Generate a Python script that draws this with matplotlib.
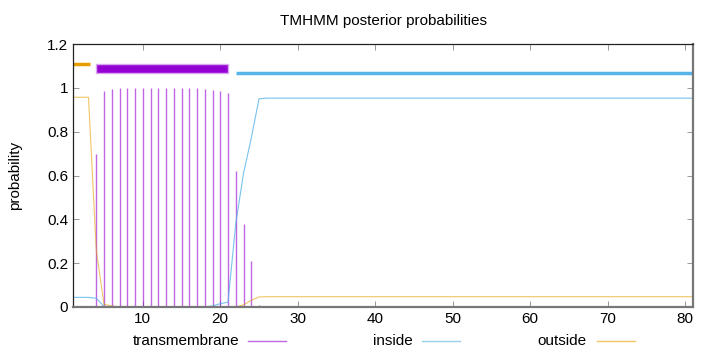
import matplotlib
matplotlib.use("Agg")
import matplotlib.pyplot as plt
from matplotlib.lines import Line2D
from matplotlib.patches import Rectangle

plt.rcParams['font.family'] = ['Liberation Sans', 'DejaVu Sans']

# posterior probabilities per residue
positions = list(range(1, 82))
tm_prob = [0.0, 0.003, 0.003, 0.70, 0.985, 0.995, 1.0, 1.0, 1.0, 1.0,
           1.0, 1.0, 1.0, 1.0, 1.0, 1.0, 1.0, 0.995, 0.99, 0.985,
           0.978, 0.62, 0.38, 0.21, 0.01] + [0.0] * 56
inside_prob = [0.044, 0.044, 0.044, 0.04, 0.003, 0.0, 0.0, 0.0, 0.0, 0.0,
               0.0, 0.0, 0.0, 0.0, 0.0, 0.0, 0.0, 0.0, 0.005, 0.015,
               0.022, 0.38, 0.61, 0.77, 0.95] + [0.953] * 56
outside_prob = [0.957, 0.957, 0.957, 0.26, 0.012, 0.005, 0.0, 0.0, 0.0, 0.0,
                0.0, 0.0, 0.0, 0.0, 0.0, 0.0, 0.0, 0.0, 0.0, 0.0,
                0.0, 0.0, 0.01, 0.03, 0.046] + [0.047] * 56

# predicted topology segments (start, end)
outside_seg = (1, 3)
tm_seg = (4, 21)
inside_seg = (22, 81)

c_tm = '#9400D3'
c_in = '#56B4E9'
c_out = '#E69F00'

fig = plt.figure(figsize=(7.2, 3.52), dpi=100)
ax = fig.add_axes([73 / 720, 45 / 352, 620 / 720, 263 / 352])

ax.vlines(positions, 0, tm_prob, color=c_tm, alpha=0.6, linewidth=1.0)
ax.plot(positions, inside_prob, color=c_in, alpha=0.8, linewidth=0.8)
ax.plot(positions, outside_prob, color=c_out, alpha=0.6, linewidth=0.8)

# topology bars on top
ax.plot([outside_seg[0], outside_seg[1] + 0.15], [1.11, 1.11], color=c_out, linewidth=2.5,
        solid_capstyle='butt')
ax.add_patch(Rectangle((tm_seg[0], 1.066), tm_seg[1] - tm_seg[0], 0.045,
                       facecolor=c_tm, edgecolor='#d9a6f0', linewidth=1))
ax.plot([inside_seg[0], inside_seg[1]], [1.069, 1.069], color=c_in, linewidth=2.5,
        solid_capstyle='butt')

ax.set_xlim(1, 81)
ax.set_ylim(0, 1.2)
ax.set_xticks([10, 20, 30, 40, 50, 60, 70, 80])
ax.set_yticks([0, 0.2, 0.4, 0.6, 0.8, 1.0, 1.2])
ax.set_yticklabels(['0', '0.2', '0.4', '0.6', '0.8', '1', '1.2'])
ax.tick_params(direction='in', top=True, right=True, labelsize=11, length=4, width=0.6,
               color='#888888')
for side, s in ax.spines.items():
    s.set_linewidth(0.9)
    s.set_color('#222222' if side in ('left', 'top') else '#777777')
ax.spines['right'].set_linewidth(1.6)
ax.spines['bottom'].set_linewidth(1.6)
ax.set_ylabel('probability', fontsize=11, labelpad=18)
ax.set_title('TMHMM posterior probabilities', fontsize=11, pad=14)

# legend at the bottom
legend_items = [('transmembrane', c_tm, 239, 248),
                ('inside', c_in, 413, 422),
                ('outside', c_out, 587, 597)]
for label, col, xt, xl in legend_items:
    y = 1 - 341 / 352
    fig.text(xt / 720, y, label, ha='right', va='center', fontsize=11)
    fig.add_artist(Line2D([xl / 720, (xl + 38) / 720], [y, y], color=col, alpha=0.6,
                          linewidth=1.0, transform=fig.transFigure))

fig.savefig('out.png', dpi=100)
